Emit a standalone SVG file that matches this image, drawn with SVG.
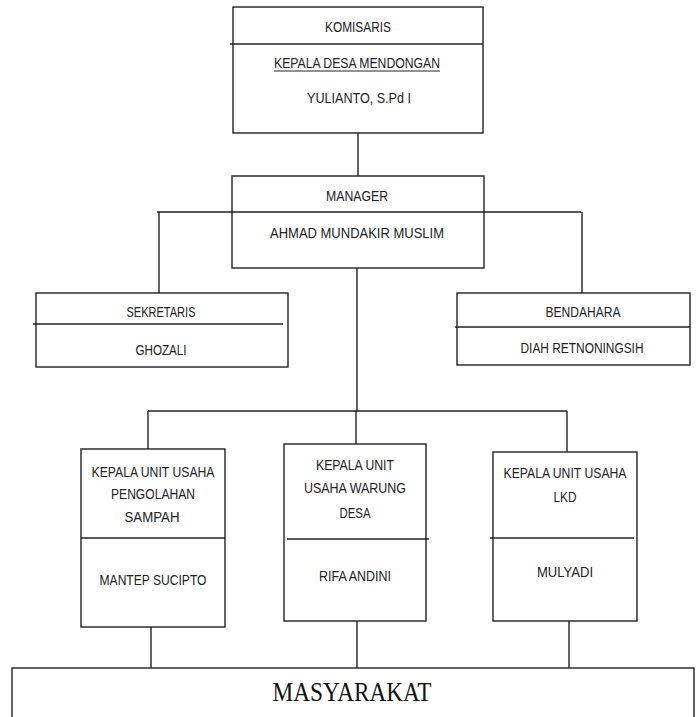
<svg xmlns="http://www.w3.org/2000/svg" width="697" height="717" viewBox="0 0 697 717">
<style>
.box{fill:#fff;stroke:#222;stroke-width:1.4}
.ln{stroke:#222;stroke-width:1.4;fill:none}
.t{font-family:"Liberation Sans",Arial,sans-serif;font-size:15px;fill:#222;text-anchor:middle}
.s{font-family:"Liberation Serif","Times New Roman",serif;font-size:27px;fill:#111;text-anchor:middle}
</style>
<rect width="697" height="717" fill="#fff"/>
<g id="komisaris">
<rect class="box" x="233" y="7" width="250" height="126"/>
<path class="ln" d="M230 44H483"/>
<text class="t" x="358" y="32" textLength="66" lengthAdjust="spacingAndGlyphs">KOMISARIS</text>
<text class="t" x="357" y="68" textLength="166" lengthAdjust="spacingAndGlyphs">KEPALA DESA MENDONGAN</text>
<path class="ln" d="M274 71H440" style="stroke-width:1"/>
<text class="t" x="359" y="103" textLength="104" lengthAdjust="spacingAndGlyphs">YULIANTO, S.Pd I</text>
</g>
<g id="manager">
<rect class="box" x="232" y="176" width="252" height="92"/>
<text class="t" x="357" y="201" textLength="62" lengthAdjust="spacingAndGlyphs">MANAGER</text>
<text class="t" x="357" y="238" textLength="174" lengthAdjust="spacingAndGlyphs">AHMAD MUNDAKIR MUSLIM</text>
</g>
<g id="sekretaris">
<rect class="box" x="36" y="293" width="252" height="74"/>
<path class="ln" d="M33 324H283"/>
<text class="t" x="161" y="317" textLength="69" lengthAdjust="spacingAndGlyphs">SEKRETARIS</text>
<text class="t" x="161" y="355" textLength="51" lengthAdjust="spacingAndGlyphs">GHOZALI</text>
</g>
<g id="bendahara">
<rect class="box" x="457" y="293" width="233" height="72"/>
<path class="ln" d="M455 327H690"/>
<text class="t" x="583" y="317" textLength="75" lengthAdjust="spacingAndGlyphs">BENDAHARA</text>
<text class="t" x="582" y="353" textLength="123" lengthAdjust="spacingAndGlyphs">DIAH RETNONINGSIH</text>
</g>
<g id="unit-sampah">
<rect class="box" x="81" y="449" width="144" height="178"/>
<path class="ln" d="M81 538H225"/>
<text class="t" x="153" y="477" textLength="123" lengthAdjust="spacingAndGlyphs">KEPALA UNIT USAHA</text>
<text class="t" x="153" y="499" textLength="84" lengthAdjust="spacingAndGlyphs">PENGOLAHAN</text>
<text class="t" x="152" y="522" textLength="55" lengthAdjust="spacingAndGlyphs">SAMPAH</text>
<text class="t" x="153" y="585" textLength="107" lengthAdjust="spacingAndGlyphs">MANTEP SUCIPTO</text>
</g>
<g id="unit-warung">
<rect class="box" x="284" y="444" width="142" height="177"/>
<path class="ln" d="M287 539H429"/>
<text class="t" x="355" y="470" textLength="78" lengthAdjust="spacingAndGlyphs">KEPALA UNIT</text>
<text class="t" x="355" y="493" textLength="102" lengthAdjust="spacingAndGlyphs">USAHA WARUNG</text>
<text class="t" x="355" y="518" textLength="31" lengthAdjust="spacingAndGlyphs">DESA</text>
<text class="t" x="355" y="581" textLength="72" lengthAdjust="spacingAndGlyphs">RIFA ANDINI</text>
</g>
<g id="unit-lkd">
<rect class="box" x="493" y="452" width="144" height="169"/>
<path class="ln" d="M490 538H634"/>
<text class="t" x="565" y="478" textLength="123" lengthAdjust="spacingAndGlyphs">KEPALA UNIT USAHA</text>
<text class="t" x="565" y="502" textLength="23" lengthAdjust="spacingAndGlyphs">LKD</text>
<text class="t" x="565" y="577" textLength="56" lengthAdjust="spacingAndGlyphs">MULYADI</text>
</g>
<g id="masyarakat">
<rect class="box" x="12" y="668" width="682" height="60"/>
<text class="s" x="352" y="701" textLength="159" lengthAdjust="spacingAndGlyphs">MASYARAKAT</text>
</g>
<g id="connectors">
<path class="ln" d="M358 133V176"/>
<path class="ln" d="M157 212H581M159 212V293M582 212V293"/>
<path class="ln" d="M357 268V411M148 411H567M148 411V449M356 411V444M567 411V452"/>
<path class="ln" d="M151 627V668M357 621V668M569 621V668"/>
</g>
</svg>
